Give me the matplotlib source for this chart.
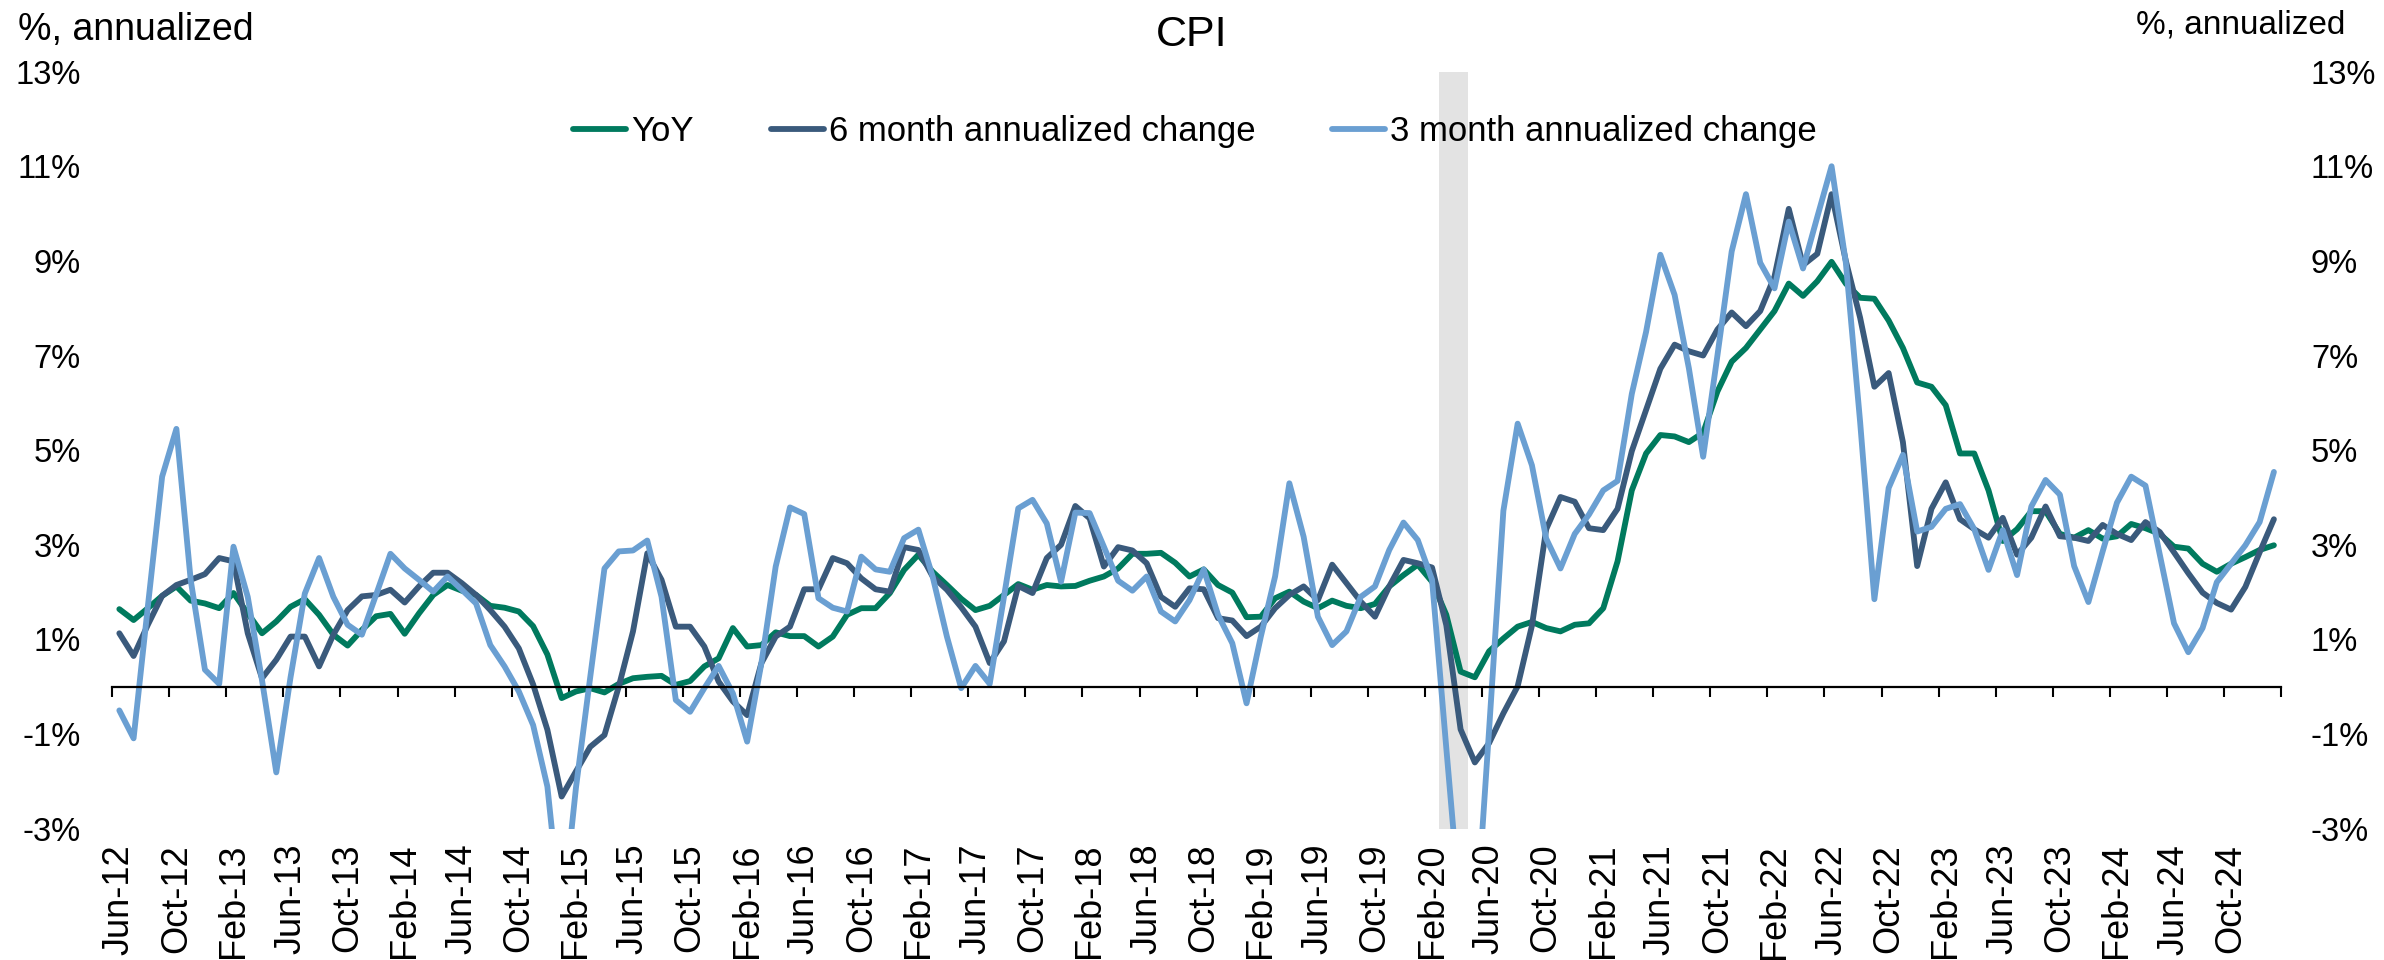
import numpy as np
import pandas as pd
import matplotlib
matplotlib.use("Agg")
import matplotlib.pyplot as plt
import matplotlib.transforms as mtransforms

plt.rcParams['font.family'] = ['Liberation Sans', 'DejaVu Sans']

# monthly observations, Jun-12 .. Jan-25
months = pd.date_range("2012-06-01", periods=152, freq="MS")

yoy = [
    1.64, 1.41, 1.66, 1.92, 2.12, 1.82, 1.76, 1.66, 1.98, 1.55, 1.13, 1.38,
    1.69, 1.85, 1.52, 1.10, 0.87, 1.20, 1.49, 1.54, 1.12, 1.55, 1.94, 2.15,
    2.03, 1.94, 1.71, 1.67, 1.59, 1.28, 0.68, -0.24, -0.10, -0.03, -0.12, 0.06,
    0.18, 0.21, 0.23, 0.04, 0.12, 0.43, 0.60, 1.24, 0.85, 0.88, 1.15, 1.07,
    1.07, 0.85, 1.06, 1.52, 1.66, 1.66, 1.98, 2.47, 2.79, 2.43, 2.15, 1.86,
    1.62, 1.71, 1.94, 2.17, 2.05, 2.15, 2.12, 2.13, 2.24, 2.33, 2.50, 2.81,
    2.81, 2.83, 2.62, 2.33, 2.48, 2.15, 1.99, 1.47, 1.48, 1.87, 2.01, 1.80,
    1.66, 1.82, 1.71, 1.66, 1.75, 2.12, 2.36, 2.58, 2.22, 1.52, 0.32, 0.20,
    0.75, 1.02, 1.27, 1.37, 1.24, 1.17, 1.31, 1.34, 1.66, 2.65, 4.15, 4.93,
    5.32, 5.29, 5.17, 5.37, 6.24, 6.87, 7.16, 7.55, 7.94, 8.52, 8.26, 8.57,
    8.98, 8.52, 8.22, 8.20, 7.74, 7.16, 6.43, 6.34, 5.95, 4.93, 4.93, 4.15,
    3.08, 3.33, 3.71, 3.71, 3.23, 3.15, 3.31, 3.13, 3.18, 3.44, 3.35, 3.23,
    2.96, 2.92, 2.60, 2.43, 2.60, 2.74, 2.89, 2.99,
]

six_month = [
    1.13, 0.65, 1.31, 1.92, 2.15, 2.26, 2.38, 2.72, 2.65, 1.13, 0.18, 0.57,
    1.06, 1.06, 0.43, 1.10, 1.62, 1.91, 1.94, 2.05, 1.78, 2.12, 2.41, 2.41,
    2.19, 1.94, 1.62, 1.27, 0.81, 0.05, -0.91, -2.32, -1.79, -1.27, -1.02, 0.00,
    1.17, 2.82, 2.26, 1.27, 1.27, 0.85, 0.11, -0.31, -0.60, 0.50, 1.06, 1.27,
    2.06, 2.06, 2.72, 2.61, 2.29, 2.06, 2.01, 2.95, 2.89, 2.33, 2.05, 1.68,
    1.27, 0.50, 0.96, 2.13, 1.98, 2.72, 3.00, 3.82, 3.56, 2.54, 2.95, 2.88,
    2.61, 1.90, 1.69, 2.08, 2.06, 1.45, 1.40, 1.07, 1.27, 1.66, 1.94, 2.12,
    1.83, 2.58, 2.19, 1.80, 1.48, 2.12, 2.68, 2.61, 2.52, 1.30, -0.90, -1.60,
    -1.19, -0.56, 0.01, 1.29, 3.33, 4.01, 3.91, 3.35, 3.31, 3.76, 4.98, 5.85,
    6.72, 7.23, 7.09, 7.00, 7.55, 7.91, 7.62, 7.94, 8.67, 10.10, 8.91, 9.15,
    10.41, 9.00, 7.80, 6.34, 6.63, 5.17, 2.55, 3.76, 4.32, 3.54, 3.33, 3.15,
    3.57, 2.79, 3.15, 3.81, 3.18, 3.15, 3.08, 3.42, 3.23, 3.10, 3.48, 3.27,
    2.84, 2.40, 1.99, 1.77, 1.63, 2.11, 2.84, 3.54,
]

three_month = [
    -0.50, -1.09, 1.70, 4.44, 5.45, 2.26, 0.36, 0.06, 2.96, 1.90, 0.14, -1.81,
    0.20, 1.97, 2.72, 1.90, 1.31, 1.10, 1.95, 2.81, 2.50, 2.26, 2.01, 2.33,
    2.05, 1.76, 0.88, 0.43, -0.10, -0.81, -2.11, -5.00, -2.14, 0.20, 2.50, 2.86,
    2.88, 3.09, 1.90, -0.28, -0.53, -0.03, 0.44, -0.14, -1.16, 0.50, 2.54, 3.79,
    3.65, 1.87, 1.67, 1.59, 2.75, 2.48, 2.43, 3.14, 3.32, 2.33, 1.06, -0.03,
    0.44, 0.06, 1.90, 3.77, 3.95, 3.45, 2.22, 3.68, 3.67, 2.96, 2.24, 2.03,
    2.33, 1.59, 1.38, 1.83, 2.48, 1.52, 0.92, -0.35, 1.06, 2.33, 4.30, 3.17,
    1.48, 0.88, 1.17, 1.90, 2.12, 2.89, 3.47, 3.10, 2.26, -1.30, -4.80, -5.40,
    -0.90, 3.72, 5.56, 4.68, 3.13, 2.50, 3.23, 3.64, 4.15, 4.35, 6.19, 7.50,
    9.13, 8.28, 6.73, 4.86, 7.00, 9.20, 10.41, 8.96, 8.42, 9.83, 8.84, 9.93,
    11.00, 8.96, 5.60, 1.85, 4.20, 4.90, 3.28, 3.38, 3.76, 3.86, 3.33, 2.47,
    3.31, 2.36, 3.81, 4.37, 4.06, 2.55, 1.79, 2.86, 3.89, 4.44, 4.25, 2.79,
    1.34, 0.73, 1.24, 2.21, 2.60, 2.99, 3.48, 4.54,
]

series_names = ["YoY", "6 month annualized change", "3 month annualized change"]
series_colors = ["#007A5E", "#3A5A7C", "#6A9FD2"]
recession = ("2020-03-01", "2020-04-01")
y_ticks = list(range(-3, 14, 2))

fig = plt.figure(figsize=(23.84, 9.6), dpi=100)
ax = fig.add_axes([0.04706, 0.13677, 0.90975, 0.78864])
x = np.arange(len(months))

# recession shading
r0 = months.get_loc(pd.Timestamp(recession[0]))
r1 = months.get_loc(pd.Timestamp(recession[1]))
ax.axvspan(r0 - 0.5, r1 + 0.5, color="#E3E3E3", lw=0, zorder=0)

for vals, name, col in zip([yoy, six_month, three_month], series_names, series_colors):
    ax.plot(x, vals, color=col, lw=4.2, label=name,
            solid_joinstyle="round", solid_capstyle="round", zorder=2)

ax.set_xlim(-0.5, len(months) - 0.5)
ax.set_ylim(-3, 13)

for side in ["top", "left", "right"]:
    ax.spines[side].set_visible(False)
ax.spines["bottom"].set_position(("data", 0))
ax.spines["bottom"].set_linewidth(1.6)
ax.spines["bottom"].set_color("black")

ax.set_xticks(np.arange(-0.5, len(months), 4))
ax.tick_params(axis="x", direction="out", length=7.5, width=1.5,
               labelbottom=False, color="black")

# month labels along the bottom of the plot
blend = mtransforms.blended_transform_factory(ax.transData, ax.transAxes)
for i in range(0, len(months), 4):
    ax.text(i, -0.02, months[i].strftime("%b-%y"), transform=blend,
            rotation=90, ha="center", va="top", fontsize=26)

ax.set_yticks(y_ticks)
ax.set_yticklabels([f"{v}%" for v in y_ticks])
ax.tick_params(axis="y", length=0, pad=22.5, labelsize=23.5)

ax2 = ax.twinx()
ax2.set_ylim(ax.get_ylim())
ax2.set_yticks(y_ticks)
ax2.set_yticklabels([f"{v}%" for v in y_ticks])
ax2.tick_params(axis="y", length=0, pad=21.5, labelsize=23.5)
for side in ax2.spines:
    ax2.spines[side].set_visible(False)

ax.legend(loc="center", bbox_to_anchor=(0.5013, 0.8628), bbox_transform=fig.transFigure,
          ncol=3, frameon=False, fontsize=25, handlelength=1.53,
          handletextpad=0.15, columnspacing=2.2)

fig.text(0.5, 1 - 35 / 960, "CPI", ha="center", va="center", fontsize=31)
fig.text(18 / 2384, 1 - 40 / 960, "%, annualized", ha="left", va="baseline", fontsize=27)
fig.text(2345 / 2384, 1 - 33 / 960, "%, annualized", ha="right", va="baseline", fontsize=24)

fig.savefig("out.png", dpi=100)
